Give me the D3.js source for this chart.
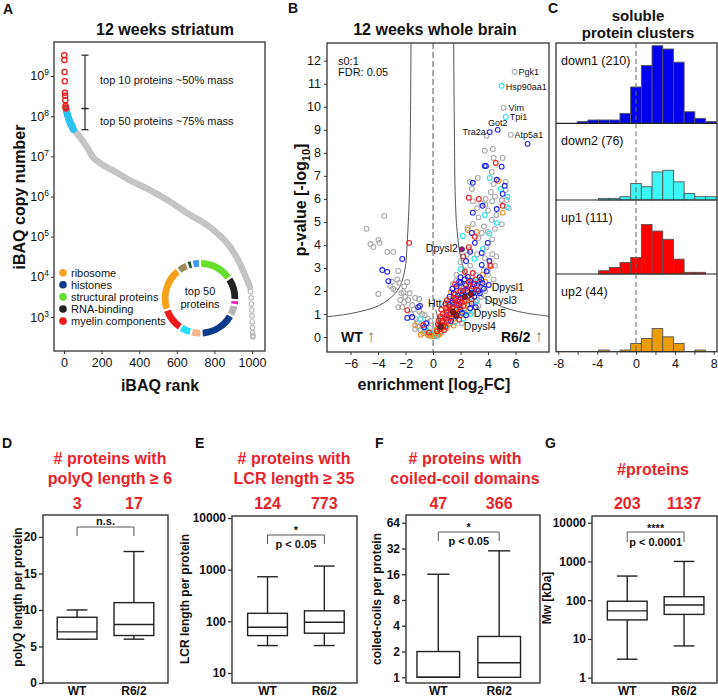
<!DOCTYPE html>
<html><head><meta charset="utf-8">
<script src="https://cdn.jsdelivr.net/npm/d3@7"></script>
<style>body{margin:0;background:#fff}svg{display:block}</style>
</head><body>
<svg id="fig" width="718" height="699"></svg>
<script>
// ================= DATA =================
// Panel A: iBAQ copy numbers by rank
const topTenRank = [1,2,3,4,5,6,7,8,9,10];
const topTenCopies = [3.3e9,2.5e9,1.26e9,7.4e8,3.8e8,3.2e8,2.5e8,1.8e8,1.65e8,1.55e8];
const top50Rank = [11,12,13,14,15,16,17,18,19,20,21,22,23,24,25,26,27,28,29,30,31,32,33,34,35,36,37,38,39,40,41,42,43,44,45,46,47,48,49,50];
const top50Copies = [1.5e8,1.42e8,1.35e8,1.3e8,1.25e8,1.2e8,1.15e8,1.1e8,1.06e8,1.02e8,9.8e7,9.5e7,9.2e7,8.9e7,8.6e7,8.3e7,8.0e7,7.8e7,7.6e7,7.4e7,7.2e7,7.0e7,6.8e7,6.7e7,6.5e7,6.4e7,6.2e7,6.1e7,6.0e7,5.9e7,5.8e7,5.7e7,5.6e7,5.4e7,5.3e7,5.2e7,5.0e7,4.9e7,4.8e7,4.6e7];
const restRank = [52,85,122,154,191,282,367,457,548,654,793,883,926,963,989];
const restCopies = [4.6e7,3.0e7,1.7e7,9.5e6,6.9e6,3.9e6,2.3e6,1.45e6,8.3e5,3.9e5,1.5e5,5.6e4,2.6e4,1.1e4,5.6e3];
const tailRank = [992,995,997,999,1000,1001,1002,1003,1004,1005];
const tailCopies = [4.3e3,3.0e3,2.1e3,1.5e3,1.07e3,7.6e2,5.4e2,4.0e2,3.5e2,3.2e2];
const rankTicks = [0,200,400,600,800,1000];
const copyTicks = [1e3,1e4,1e5,1e6,1e7,1e8,1e9];
const legendNames = ["ribosome","histones","structural proteins","RNA-binding","myelin components"];
const legendColors = ["#f7a11a","#0d3b8c","#66e02c","#222222","#ee1c1c"];
const donutValues = [58,38,6,17,61,16,18,38,75,16,6,11];
const donutColors = ["#66e02c","#222222","#e81ec8","#b4b4b4","#0d3b8c","#f2b48c","#22ddf5","#ee1c1c","#f7a11a","#9a8a5e","#1d4d1d","#3399ee"];

// Panel B: volcano (log2FC, -log10 p)
const volcGrey = [[5.93,11.52],[5.13,9.96],[5.64,8.78],[3.9,8.74],[4.34,8.17],[3.76,8.09],[4.41,7.78],[5.06,7.78],[4.27,7.17],[3.25,6.91],[5.28,6.74],[2.68,6.74],[4.41,6.65],[5.28,6.39],[2.82,6.43],[3.83,6.0],[4.2,6.3],[4.5,6.1],
 [3.2,5.6],[3.5,5.8],[3.8,5.75],[4.3,5.9],[5.0,5.95],[5.35,5.95],[2.9,5.9],[4.0,5.5],[4.6,5.3],[3.3,5.2],[4.27,5.09],[5.5,5.6],
 [3.98,4.57],[2.53,4.74],[3.54,4.52],[3.7,4.8],[4.5,4.7],[3.3,4.3],[4.3,4.25],[2.9,4.9],[5.0,4.9],
 [2.68,3.78],[2.46,3.57],[3.76,3.43],[3.2,3.6],[2.7,3.1],[4.3,3.6],[2.0,3.25],[3.9,3.9],[4.6,3.5],[4.5,3.1],
 [3.98,2.91],[3.1,2.7],[3.7,2.9],[4.0,2.7],[2.3,2.9],[1.7,2.7],[2.2,2.1],[3.4,2.2],[1.7,2.45],[4.4,2.5],[2.9,2.45],
 [2.5,1.95],[3.2,1.6],[2.9,1.1],[1.5,0.9],[3.5,1.75],[3.8,2.0],[3.3,1.35],[2.2,1.6],[1.1,1.25],[0.6,0.8],
 [1.2,1.65],[1.9,2.2],[2.6,2.2],[3.0,1.45],[2.1,0.6],[0.45,0.75],[3.6,2.1],[1.45,2.3],[2.3,2.3],
 [0.15,0.3],[0.3,0.05],[0.5,0.15],
 [-4.84,4.7],[-3.54,5.26],[-3.98,4.22],[-4.55,4.04],[-4.34,3.91],[-3.9,4.09],[-3.33,3.7],[-2.89,3.7],[-2.53,2.87],[-2.46,2.35],[-1.88,2.39],[-3.98,1.87],[-3.11,2.22],[-2.9,2.1],[-2.75,2.04],[-2.31,1.91],[-2.15,1.95],[-2.02,1.74],[-1.81,1.61],[-1.3,1.7],[-1.01,1.65],[-2.53,1.3],[-2.24,1.3],[-1.52,1.39],[-2.39,1.61],[-1.23,0.78],[-0.8,1.0],[-0.6,0.95],[-1.3,0.35],[-0.22,0.39],[-1.16,0.65],[-0.43,0.61],[-2.6,2.5],[-3.0,2.4],[-2.1,2.2],[-1.6,1.0],[-1.1,0.45],[-0.9,0.3],[-0.5,0.2],[-0.3,0.1],[-0.15,0.05],[-2.1,1.5],[-1.7,1.9],[-0.7,0.55],[-1.0,1.1],[-0.4,0.8],[-1.4,1.2],[-0.2,0.7]];
const volcCyan = [[4.99,10.91],[5.28,9.56],[4.12,6.91],[4.92,6.43],[5.42,6.09],
 [3.76,5.3],[5.35,5.65],[4.63,4.96],[4.1,4.5],[2.17,4.39],[3.62,3.83],[3.0,3.4],[2.0,2.95],[3.3,2.45],
 [2.4,1.6],[3.1,1.55],[1.6,1.15],[2.5,1.1],[2.3,1.05],[1.6,0.65],[2.2,0.8],[1.1,0.55],[0.45,0.4],[0.1,0.1],[0.25,0.05],[1.9,1.9],[2.9,1.95],
 [1.3,0.85],[1.8,1.25],[2.6,1.55],[0.8,0.45],[2.1,1.75],[3.2,1.9],[0.55,0.25],[1.45,1.35],[2.75,1.0],[0.3,0.35],
 [-0.94,0.78],[-0.43,0.26],[-0.07,0.17],[-0.6,0.3]];
const volcOrange = [[4.77,6.78],[5.06,5.4],[2.53,4.65],[3.18,4.57],[4.12,3.13],[3.6,2.7],[3.8,2.4],[1.8,2.1],
 [1.4,1.6],[2.2,1.9],[1.3,1.95],[0.8,1.35],[1.8,1.05],[2.6,1.4],[1.1,1.5],[0.8,0.6],[1.2,0.95],[2.0,0.95],[0.7,0.4],[0.6,0.2],[0.4,0.1],[0.2,0.15],[0.05,0.05],[1.5,0.5],
 [1.0,0.4],[1.6,0.8],[2.3,1.2],[1.25,0.6],[0.9,1.0],[2.4,1.6],[1.9,1.15],[0.6,0.55],[2.75,1.9],[3.4,2.35],[0.25,0.3],
 [-1.3,0.52],[-0.72,0.17],[-0.36,0.09],[-0.9,0.1],[-0.2,0.05]];
const volcBlue = [[4.7,9.0],[4.12,8.9],[6.87,8.39],[3.76,7.43],[3.85,7.43],[4.99,7.4],[4.63,6.83],[2.89,6.7],[5.21,6.57],[5.06,6.22],
 [2.89,5.4],[4.63,5.56],[3.6,5.7],[2.82,4.52],[3.04,4.09],[3.98,4.09],[3.54,3.65],[2.7,3.7],[3.54,3.13],[2.53,2.61],[4.05,2.26],[2.4,3.3],[4.1,3.3],[3.9,2.85],[3.4,2.6],[2.0,2.6],
 [1.4,2.1],[2.0,2.35],[2.4,2.25],[2.8,2.1],[3.0,2.3],[3.6,2.35],[2.7,2.45],
 [1.2,1.75],[2.0,1.7],[2.6,1.8],[3.0,1.75],[3.4,1.9],[1.2,1.4],[2.0,1.2],[2.7,1.25],[0.9,1.45],[1.3,0.7],[2.4,0.95],[1.9,1.4],[3.3,2.0],[2.2,2.0],[1.6,1.6],
 [1.5,1.9],[1.8,1.8],[2.1,1.85],[2.5,2.0],[2.9,1.9],[3.2,2.25],[3.5,2.5],[1.7,2.2],[2.3,2.5],[1.0,0.95],[1.7,0.9],[2.1,1.05],[2.8,1.45],[3.1,1.3],[1.4,1.5],[0.7,0.7],[3.7,2.1],[1.9,2.4],
 [-2.24,3.39],[-3.69,2.91],[-3.33,2.83],[-3.25,2.43],[-1.08,1.3],[-0.95,1.35],[-1.88,0.83],[-1.52,0.87],[-0.65,0.43],[-0.5,0.6]];
const volcRed = [[4.56,7.56],[3.33,6.0],[2.6,6.05],[5.06,5.7],[3.04,4.35],[2.6,3.9],[2.2,3.5],[4.19,3.09],[2.89,2.78],[2.31,2.83],[1.6,2.3],[2.6,2.4],[3.2,2.05],
 [1.0,1.6],[1.6,1.85],[1.8,1.55],[2.8,1.65],[2.1,1.5],[0.6,1.2],[1.0,1.1],[1.4,1.25],[2.2,1.35],[1.5,1.45],[1.7,1.4],
 [0.4,0.7],[0.55,0.9],[1.0,0.8],[1.9,0.75],[0.7,1.0],[0.9,0.45],[0.3,0.25],[0.5,0.35],[0.35,0.55],[1.25,1.0],[0.8,0.3],
 [0.45,0.5],[0.65,0.65],[0.85,0.85],[1.1,0.7],[1.3,1.15],[1.5,1.0],[1.7,1.2],[1.95,1.3],[2.3,1.55],[2.5,1.75],[1.2,1.3],[0.95,1.25],[1.6,1.7],[2.0,2.0],[2.4,2.1],[1.35,0.85],[0.75,0.5],[1.85,1.65],[2.9,2.2],[3.1,2.5],
 [-1.74,4.09],[-1.88,1.17],[-0.72,0.52],[-0.3,0.2]];
const namedProteins = ["Pgk1","Hsp90aa1","Vim","Tpi1","Got2","Tra2a","Atp5a1"];
const namedPoints = [[5.93,11.52],[4.99,10.91],[5.13,9.96],[5.28,9.56],[4.7,9.0],[4.12,8.9],[5.64,8.78]];
const markedProteins = ["Htt","Dpysl4","Dpysl5","Dpysl3","Dpysl1"];
const markedPoints = [[0.55,0.45],[1.7,0.95],[1.45,1.09],[2.3,1.75],[2.75,1.87]];
const dpysl2Point = [2.1,3.81];
const leftThreshold = [[-7.71,0.88],[-6.5,0.97],[-5.5,1.08],[-4.2,1.3],[-3.3,1.6],[-2.75,1.9],[-2.4,2.2],[-2.17,2.6],[-1.98,3.2],[-1.88,4.1],[-1.73,6.0],[-1.65,9.0],[-1.6,12.8]];
const rightThreshold = [[1.5,12.8],[1.55,9.0],[1.62,6.0],[1.75,4.6],[2.0,3.5],[2.4,2.7],[3.0,2.1],[3.6,1.75],[4.5,1.45],[5.5,1.22],[6.5,1.07],[8.45,0.9]];
const fcTicks = [-6,-4,-2,0,2,4,6];
const pTicks = [0,1,2,3,4,5,6,7,8,9,10,11,12];

// Panel C: histograms of log2FC per cluster
const clusterNames = ["down1 (210)","down2 (76)","up1 (111)","up2 (44)"];
const binCenters = [-5.5,-4.4,-3.3,-2.2,-1.1,0,1.1,2.2,3.3,4.4,5.5,6.6,7.7];
const down1Counts = [1,2,2,2,6,22,35,47,45,37,7,3,1];
const down2Counts = [0,0,1,1,2,10,8,17,18,11,4,2,2];
const up1Counts = [0,0,2,4,7,10,30,26,21,9,1,1,0];
const up2Counts = [0,0,1,0,1,5,8,14,9,5,0,1,0];
const clusterTicks = [-8,-6,-4,-2,0,2,4,6,8];

// Panels D-G: box plots (min, q1, median, q3, max)
const boxCats = ["WT","R6/2"];
const polyQStats = [[6,6,7,9,10],[6,6.5,8,11,18]];
const lcrStats = [[34,53,77,143,730],[34,59,96,160,1175]];
const coilStats = [[1,1,1,2,16],[1,1,1.48,3,30]];
const mwStats = [[3,31,53,94,420],[6.6,43,75,123,1000]];
const polyQN = [3,17], lcrN = [124,773], coilN = [47,366], mwN = [203,1137];
const polyQTicks = [0,5,10,15,20], lcrTicks = [10,100,1000,10000], coilTicks = [1,2,4,8,16,32,64], mwTicks = [1,10,100,1000,10000];

// ================= DRAWING =================
const FONT = '"Liberation Sans", Arial, Helvetica, sans-serif';
const svg = d3.select('#fig');
const INK = '#111';

function T(x,y,str,o={}){
  const t = svg.append('text').attr('x',x).attr('y',y).attr('font-family',FONT)
    .attr('font-size',o.size||12).attr('font-weight',o.bold?'bold':'normal')
    .attr('fill',o.fill||INK).attr('text-anchor',o.anchor||'start');
  if(o.rotate) t.attr('transform',`rotate(-90,${x},${y})`);
  if(str!==null) t.text(str);
  return t;
}
function styleAxis(g,size,bold){
  g.select('.domain').remove();
  g.selectAll('.tick line').attr('stroke','#333').attr('stroke-width',1);
  g.selectAll('.tick text').attr('font-family',FONT).attr('font-size',size)
    .attr('font-weight',bold?'bold':'normal').attr('fill',INK);
}
function frame(l,t,r,b,w){
  svg.append('rect').attr('x',l).attr('y',t).attr('width',r-l).attr('height',b-t)
    .attr('fill','none').attr('stroke','#333').attr('stroke-width',w||1.3);
}

// ---------- Panel A ----------
const PA = {l:54,r:265,t:42,b:351};
const xA = d3.scaleLinear().domain([-53.2,1069]).range([PA.l,PA.r]);
const yA = d3.scaleLog().domain([Math.pow(10,2.154),Math.pow(10,9.846)]).range([PA.b,PA.t]);
T(3,14,'A',{size:14,bold:true});
T(165,35,'12 weeks striatum',{size:16,bold:true,anchor:'middle'});

const gAx = svg.append('g').attr('transform',`translate(0,${PA.b})`)
  .call(d3.axisBottom(xA).tickValues(rankTicks).tickFormat(d3.format('d')).tickSize(3).tickPadding(4));
styleAxis(gAx,12.5,false);
const gAy = svg.append('g').attr('transform',`translate(${PA.l},0)`)
  .call(d3.axisLeft(yA).tickValues(copyTicks).tickSize(3).tickFormat(''));
styleAxis(gAy,12.5,false);
copyTicks.forEach(v=>{
  const t = T(49,yA(v)+4.5,null,{size:12.5,anchor:'end'});
  t.append('tspan').text('10');
  t.append('tspan').attr('dy',-5).attr('font-size',8.5).text(Math.round(Math.log10(v)));
});

// grey rest of proteome
const restPts = restRank.map((r,i)=>[r,restCopies[i]]);
svg.append('path').datum(restPts)
  .attr('d',d3.line().x(d=>xA(d[0])).y(d=>yA(d[1])).curve(d3.curveMonotoneX))
  .attr('fill','none').attr('stroke','#c4c4c4').attr('stroke-width',6.5).attr('stroke-linecap','round');
svg.append('g').selectAll('circle').data(tailRank.map((r,i)=>[r,tailCopies[i]])).join('circle')
  .attr('cx',d=>xA(d[0])).attr('cy',d=>yA(d[1])).attr('r',2.3)
  .attr('fill','none').attr('stroke','#bdbdbd').attr('stroke-width',1.2);
svg.append('g').selectAll('circle').data(top50Rank.map((r,i)=>[r,top50Copies[i]])).join('circle')
  .attr('cx',d=>xA(d[0])).attr('cy',d=>yA(d[1])).attr('r',2.6)
  .attr('fill','none').attr('stroke','#2cc3f2').attr('stroke-width',1.4);
svg.append('g').selectAll('circle').data(topTenRank.map((r,i)=>[r,topTenCopies[i]])).join('circle')
  .attr('cx',d=>xA(d[0])).attr('cy',d=>yA(d[1])).attr('r',2.6)
  .attr('fill','none').attr('stroke','#ee1c1c').attr('stroke-width',1.3);

// range bars
function vbar(x,y1,y2){
  svg.append('line').attr('x1',x).attr('x2',x).attr('y1',y1).attr('y2',y2).attr('stroke','#222').attr('stroke-width',1.2);
  [y1,y2].forEach(y=>svg.append('line').attr('x1',x-3.5).attr('x2',x+3.5).attr('y1',y).attr('y2',y).attr('stroke','#222').attr('stroke-width',1.2));
}
vbar(85,yA(topTenCopies[0]),yA(topTenCopies[9]));
vbar(85,yA(topTenCopies[9]),yA(top50Copies[top50Copies.length-1]));
T(100,83.5,'top 10 proteins ~50% mass',{size:11});
T(100,124.5,'top 50 proteins ~75% mass',{size:11});

// legend
legendNames.forEach((n,i)=>{
  const y = 272.7 + i*12.1;
  svg.append('circle').attr('cx',63).attr('cy',y).attr('r',3.8).attr('fill',legendColors[i]);
  T(71,y+4,n,{size:11});
});
// donut
const pie = d3.pie().sort(null).padAngle(0.045).value(d=>d);
const arc = d3.arc().innerRadius(31.5).outerRadius(38.3);
svg.append('g').attr('transform','translate(200,298.3)').selectAll('path')
  .data(pie(donutValues)).join('path').attr('d',arc).attr('fill',(d,i)=>donutColors[i]);
T(200,294.5,'top 50',{size:11,anchor:'middle'});
T(200,307.8,'proteins',{size:11,anchor:'middle'});
frame(PA.l,PA.t,PA.r,PA.b);
T(25,197,'iBAQ copy number',{size:16,bold:true,anchor:'middle',rotate:true});
T(160,391,'iBAQ rank',{size:16,bold:true,anchor:'middle'});

// ---------- Panel B ----------
const PB = {l:327,r:549,t:43,b:352};
const xB = d3.scaleLinear().domain([-7.71,8.43]).range([PB.l,PB.r]);
const yB = d3.scaleLinear().domain([-0.65,12.77]).range([PB.b,PB.t]);
T(288,13,'B',{size:14,bold:true});
T(435,35,'12 weeks whole brain',{size:16,bold:true,anchor:'middle'});
const gBx = svg.append('g').attr('transform',`translate(0,${PB.b})`)
  .call(d3.axisBottom(xB).tickValues(fcTicks).tickSize(3).tickPadding(4));
styleAxis(gBx,12.5,false);
const gBy = svg.append('g').attr('transform',`translate(${PB.l},0)`)
  .call(d3.axisLeft(yB).tickValues(pTicks).tickSize(3).tickPadding(3));
styleAxis(gBy,12.5,false);

svg.append('clipPath').attr('id','clipB').append('rect')
  .attr('x',PB.l).attr('y',PB.t).attr('width',PB.r-PB.l).attr('height',PB.b-PB.t);
const gB = svg.append('g').attr('clip-path','url(#clipB)');
gB.append('line').attr('x1',xB(0)).attr('x2',xB(0)).attr('y1',PB.t).attr('y2',PB.b)
  .attr('stroke','#555').attr('stroke-width',1).attr('stroke-dasharray','6,3');
const thrLine = d3.line().x(d=>xB(d[0])).y(d=>yB(d[1])).curve(d3.curveCatmullRom.alpha(0.5));
[leftThreshold,rightThreshold].forEach(c=>gB.append('path').attr('d',thrLine(c))
  .attr('fill','none').attr('stroke','#555').attr('stroke-width',1));
function pts(data,color){
  gB.append('g').selectAll('circle').data(data).join('circle')
    .attr('cx',d=>xB(d[0])).attr('cy',d=>yB(d[1])).attr('r',2.4)
    .attr('fill','none').attr('stroke',color).attr('stroke-width',1.05);
}
pts(volcGrey,'#a8a8a8');
pts(volcCyan,'#1ee6f2');
pts(volcOrange,'#f28a1c');
pts(volcBlue,'#1c1cf0');
pts(volcRed,'#f01818');
// marked points
gB.append('g').selectAll('circle').data(markedPoints).join('circle')
  .attr('cx',d=>xB(d[0])).attr('cy',d=>yB(d[1])).attr('r',2.6)
  .attr('fill','#b0101a').attr('stroke','#222').attr('stroke-width',1);
gB.append('circle').attr('cx',xB(dpysl2Point[0])).attr('cy',yB(dpysl2Point[1])).attr('r',2.6)
  .attr('fill','#a0168f').attr('stroke','#333').attr('stroke-width',0.8);
// labels for named points
const namedOffsets = [[4,3,'start'],[4,4,'start'],[5,3,'start'],[4,3,'start'],[0,-4,'middle'],[-4,3,'end'],[4,3,'start']];
namedProteins.forEach((n,i)=>{
  const o = namedOffsets[i];
  T(xB(namedPoints[i][0])+o[0],yB(namedPoints[i][1])+o[1],n,{size:9,anchor:o[2]});
});
T(xB(dpysl2Point[0])-4,yB(dpysl2Point[1])+3,'Dpysl2',{size:10.5,anchor:'end'});
const markedLabelAt = [[-0.36,1.3],[2.24,0.3],[2.96,0.87],[3.76,1.43],[4.27,2.0]];
markedProteins.forEach((n,i)=>{
  T(xB(markedLabelAt[i][0]),yB(markedLabelAt[i][1]),n,{size:10.5});
});
svg.append('line').attr('x1',xB(0.2)).attr('y1',yB(1.18)).attr('x2',xB(markedPoints[0][0])).attr('y2',yB(markedPoints[0][1])+2)
  .attr('stroke','#333').attr('stroke-width',0.8);
T(338,65,'s0:1',{size:11});
T(338,75.5,'FDR: 0.05',{size:11});
const wt = T(341,342,null,{size:14,bold:true});
wt.append('tspan').text('WT');
wt.append('tspan').attr('dx',4).attr('font-size',17).attr('font-weight','normal').attr('fill','#777').text('↑');
const r62 = T(543,342,null,{size:14,bold:true,anchor:'end'});
r62.append('tspan').text('R6/2');
r62.append('tspan').attr('dx',4).attr('font-size',17).attr('font-weight','normal').attr('fill','#777').text('↑');
frame(PB.l,PB.t,PB.r,PB.b);
const yl = T(306,200,null,{size:16,bold:true,anchor:'middle',rotate:true});
yl.append('tspan').text('p-value [-log');
yl.append('tspan').attr('dy',4).attr('font-size',11).text('10');
yl.append('tspan').attr('dy',-4).text(']');
const xl = T(434,390,null,{size:16,bold:true,anchor:'middle'});
xl.append('tspan').text('enrichment [log');
xl.append('tspan').attr('dy',4).attr('font-size',11).text('2');
xl.append('tspan').attr('dy',-4).text('FC]');

// ---------- Panel C ----------
const PC = {l:556,r:717};
const rowEdges = [43,123.3,200,274,351.7];
const xC = d3.scaleLinear().domain([-8.23,8.33]).range([PC.l,PC.r]);
const clusterCounts = [down1Counts,down2Counts,up1Counts,up2Counts];
const clusterColors = ['#0000ee','#3cf7f7','#ff0000','#eb9c00'];
const binW = 1.1;
T(548,13,'C',{size:14,bold:true});
T(638,21,'soluble',{size:15,bold:true,anchor:'middle'});
T(638,38,'protein clusters',{size:15,bold:true,anchor:'middle'});
clusterCounts.forEach((counts,k)=>{
  const bot = rowEdges[k+1];
  const yC = d3.scaleLinear().domain([0,47]).range([bot,bot-77.6]);
  svg.append('g').selectAll('rect').data(binCenters.map((c,i)=>[c,counts[i]]).filter(d=>d[1]>0)).join('rect')
    .attr('x',d=>xC(d[0]-binW/2)).attr('width',d=>xC(d[0]+binW/2)-xC(d[0]-binW/2))
    .attr('y',d=>yC(d[1])).attr('height',d=>bot-yC(d[1]))
    .attr('fill',clusterColors[k]).attr('stroke','#555').attr('stroke-width',0.9);
  svg.append('line').attr('x1',xC(0)).attr('x2',xC(0)).attr('y1',rowEdges[k]).attr('y2',bot)
    .attr('stroke','#666').attr('stroke-width',1).attr('stroke-dasharray','5,3');
  T(561,rowEdges[k]+22,clusterNames[k],{size:12.5});
  if(k<3) svg.append('line').attr('x1',PC.l).attr('x2',PC.r).attr('y1',bot).attr('y2',bot).attr('stroke','#222').attr('stroke-width',1.2);
});
frame(PC.l,rowEdges[0],PC.r,rowEdges[4]);
const gCx = svg.append('g').attr('transform',`translate(0,${rowEdges[4]})`)
  .call(d3.axisBottom(xC).tickValues(clusterTicks).tickSize(3).tickPadding(4).tickFormat(d=>d%4===0?d:''));
styleAxis(gCx,12.5,false);

// ---------- Panels D-G ----------
const RED = '#e8232a';
const boxPanels = [
  {letter:'D',lx:2,l:43,r:168,t:515,b:683,y:d3.scaleLinear().domain([0,23.0]),fmt:d3.format('d'),align:0.5,
   title:['# proteins with','polyQ length ≥ 6'],tcx:110,ylab:'polyQ length per protein',ylx:22,yly:597,
   stats:polyQStats,n:polyQN,ticks:polyQTicks,sig:'n.s.',pt:null,brT:527,brB:536,sigY:525,pY:0},
  {letter:'E',lx:195,l:232,r:357,t:516,b:683,y:d3.scaleLog().domain([Math.pow(10,0.807),Math.pow(10,4.039)]),fmt:d3.format('d'),align:0.55,
   title:['# proteins with','LCR length ≥ 35'],tcx:294,ylab:'LCR length per protein',ylx:189,yly:599,
   stats:lcrStats,n:lcrN,ticks:lcrTicks,sig:'*',pt:'p < 0.05',brT:535,brB:544,sigY:534,pY:548},
  {letter:'F',lx:375,l:406,r:540,t:515,b:683,y:d3.scaleLog().base(2).domain([0.858,78.7]),fmt:d3.format('d'),align:0.36,
   title:['# proteins with','coiled-coil domains'],tcx:465,ylab:'coiled-coils per protein',ylx:381,yly:599,
   stats:coilStats,n:coilN,ticks:coilTicks,sig:'*',pt:'p < 0.05',brT:532,brB:541,sigY:531,pY:545},
  {letter:'G',lx:545,l:592,r:717,t:516,b:683,y:d3.scaleLog().domain([Math.pow(10,-0.137),Math.pow(10,4.173)]),fmt:d3.format('d'),align:0.54,
   title:['#proteins'],tcx:653,ylab:'Mw [kDa]',ylx:551,yly:598,
   stats:mwStats,n:mwN,ticks:mwTicks,sig:'****',pt:'p < 0.0001',brT:532,brB:542,sigY:532,pY:545.5}
];
boxPanels.forEach(P=>{
  const y = P.y.range([P.b,P.t]);
  const x = d3.scaleBand().domain(boxCats).range([P.l,P.r]).paddingInner(0.3).paddingOuter(0.25).align(P.align);
  const bw = x.bandwidth();
  T(P.lx,448,P.letter,{size:14,bold:true});
  if(P.title.length===2){
    T(P.tcx,464,P.title[0],{size:16,bold:true,fill:RED,anchor:'middle'});
    T(P.tcx,484,P.title[1],{size:16,bold:true,fill:RED,anchor:'middle'});
  } else {
    T(P.tcx,474.5,P.title[0],{size:16,bold:true,fill:RED,anchor:'middle'});
  }
  const ga = svg.append('g').attr('transform',`translate(${P.l},0)`)
    .call(d3.axisLeft(y).tickValues(P.ticks).tickFormat(P.fmt).tickSize(4).tickPadding(2));
  styleAxis(ga,12,true);
  ga.selectAll('.tick line').attr('stroke-width',1.3);
  P.stats.forEach((s,i)=>{
    const cx = x(boxCats[i]) + bw/2;
    const g = svg.append('g').attr('stroke','#222').attr('stroke-width',1.4).attr('fill','none');
    g.append('line').attr('x1',cx).attr('x2',cx).attr('y1',y(s[0])).attr('y2',y(s[1]));
    g.append('line').attr('x1',cx).attr('x2',cx).attr('y1',y(s[3])).attr('y2',y(s[4]));
    [s[0],s[4]].forEach(v=>g.append('line').attr('x1',cx-bw*0.26).attr('x2',cx+bw*0.26).attr('y1',y(v)).attr('y2',y(v)));
    g.append('rect').attr('x',x(boxCats[i])).attr('width',bw).attr('y',y(s[3])).attr('height',y(s[1])-y(s[3])).attr('fill','#fff');
    g.append('line').attr('x1',x(boxCats[i])).attr('x2',x(boxCats[i])+bw).attr('y1',y(s[2])).attr('y2',y(s[2]));
    T(cx,509,String(P.n[i]),{size:16,bold:true,fill:RED,anchor:'middle'});
    T(cx,695,boxCats[i],{size:12,bold:true,anchor:'middle'});
  });
  const c0 = x(boxCats[0])+bw/2, c1 = x(boxCats[1])+bw/2;
  svg.append('path').attr('d',`M${c0},${P.brB}V${P.brT}H${c1}V${P.brB}`)
    .attr('fill','none').attr('stroke','#555').attr('stroke-width',1);
  T((c0+c1)/2,P.sigY,P.sig,{size:11,bold:true,anchor:'middle'});
  if(P.pt) T((c0+c1)/2,P.pY,P.pt,{size:11,bold:true,anchor:'middle'});
  frame(P.l,P.t,P.r,P.b,1.4);
  T(P.ylx,P.yly,P.ylab,{size:12,bold:true,anchor:'middle',rotate:true});
});
</script>
</body></html>
